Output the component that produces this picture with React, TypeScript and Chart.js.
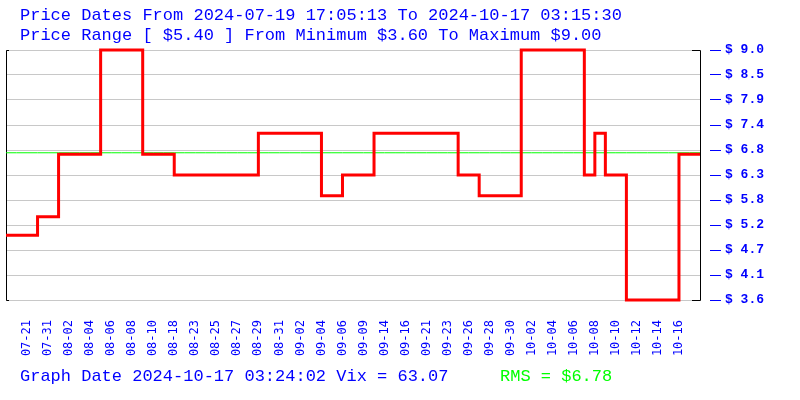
import React, { useEffect, useRef } from 'react';
import { Chart, registerables } from 'chart.js';

Chart.register(...registerables);

const titleLines = [
  'Price Dates From 2024-07-19 17:05:13 To 2024-10-17 03:15:30',
  'Price Range [ $5.40 ] From Minimum $3.60 To Maximum $9.00',
];
const footerLeft = 'Graph Date 2024-10-17 03:24:02 Vix = 63.07';
const footerRight = 'RMS = $6.78';

// visible date labels (every other sample, starting at sample 2)
const dateLabels = [
  '07-21', '07-31', '08-02', '08-04', '08-06', '08-08', '08-10', '08-18',
  '08-23', '08-25', '08-27', '08-29', '08-31', '09-02', '09-04', '09-06',
  '09-09', '09-14', '09-16', '09-21', '09-23', '09-26', '09-28', '09-30',
  '10-02', '10-04', '10-06', '10-08', '10-10', '10-12', '10-14', '10-16',
];

// price per sample (67 samples)
const prices = [
  5.0, 5.0, 5.0,
  5.4, 5.4,
  6.75, 6.75, 6.75, 6.75,
  9.0, 9.0, 9.0, 9.0,
  6.75, 6.75, 6.75,
  6.3, 6.3, 6.3, 6.3, 6.3, 6.3, 6.3, 6.3,
  7.2, 7.2, 7.2, 7.2, 7.2, 7.2,
  5.85, 5.85,
  6.3, 6.3, 6.3,
  7.2, 7.2, 7.2, 7.2, 7.2, 7.2, 7.2, 7.2,
  6.3, 6.3,
  5.85, 5.85, 5.85, 5.85,
  9.0, 9.0, 9.0, 9.0, 9.0, 9.0,
  6.3,
  7.2,
  6.3, 6.3,
  3.6, 3.6, 3.6, 3.6, 3.6,
  6.75, 6.75, 6.75,
];

const rmsValue = 6.78;
const yMin = 3.6;
const yMax = 9.0;
const yTickValues = [3.6, 4.14, 4.68, 5.22, 5.76, 6.3, 6.84, 7.38, 7.92, 8.46, 9.0];

const BLUE = '#0000ff';
const GREEN = '#00ff00';
const RED = '#ff0000';
const GRID = '#c8c8c8';

const sampleLabels = prices.map((_, i) =>
  i >= 2 && (i - 2) % 2 === 0 && (i - 2) / 2 < dateLabels.length ? dateLabels[(i - 2) / 2] : ''
);

const decorPlugin = {
  id: 'decor',
  beforeDatasetsDraw(chart: any) {
    const { ctx, chartArea } = chart;
    const { left, right, top, bottom } = chartArea;
    ctx.save();
    ctx.strokeStyle = '#000000';
    ctx.lineWidth = 1;
    ctx.beginPath();
    // left bracket
    ctx.moveTo(left + 3, top + 0.5);
    ctx.lineTo(left + 0.5, top + 0.5);
    ctx.lineTo(left + 0.5, bottom + 0.5);
    ctx.lineTo(left + 3, bottom + 0.5);
    // right bracket
    ctx.moveTo(right - 8, top + 0.5);
    ctx.lineTo(right + 0.5, top + 0.5);
    ctx.lineTo(right + 0.5, bottom + 0.5);
    ctx.lineTo(right - 8, bottom + 0.5);
    ctx.stroke();
    ctx.restore();
  },
  afterDraw(chart: any) {
    const { ctx } = chart;
    ctx.save();
    ctx.font = '17px "Liberation Mono"';
    ctx.textBaseline = 'alphabetic';
    ctx.textAlign = 'left';
    ctx.fillStyle = BLUE;
    ctx.fillText(titleLines[0], 20, 20);
    ctx.fillText(titleLines[1], 20, 40);
    ctx.fillText(footerLeft, 20, 381);
    ctx.fillStyle = GREEN;
    ctx.fillText(footerRight, 500, 381);
    ctx.restore();
  },
};

export default function App() {
  const canvasRef = useRef<HTMLCanvasElement | null>(null);

  useEffect(() => {
    if (!canvasRef.current) return;
    const chart = new Chart(canvasRef.current, {
      type: 'line',
      data: {
        labels: sampleLabels,
        datasets: [
          {
            data: prices,
            borderColor: RED,
            borderWidth: 3,
            stepped: 'before',
            pointRadius: 0,
            fill: false,
            clip: false as any,
            borderJoinStyle: 'miter',
            borderCapStyle: 'butt',
            yAxisID: 'y',
          },
          {
            data: prices.map(() => rmsValue),
            borderColor: GREEN,
            borderWidth: 1,
            pointRadius: 0,
            fill: false,
            yAxisID: 'y',
          },
        ],
      },
      options: {
        animation: false,
        responsive: false,
        events: [],
        layout: { padding: { top: 50, left: 6, right: 0, bottom: 0 } },
        plugins: {
          legend: { display: false },
          title: { display: false },
          tooltip: { enabled: false },
        },
        scales: {
          x: {
            type: 'category',
            offset: false,
            grid: { display: false, drawTicks: false },
            border: { display: false },
            ticks: {
              autoSkip: false,
              minRotation: 90,
              maxRotation: 90,
              padding: 20,
              color: BLUE,
              font: { family: '"DejaVu Sans Mono"', size: 12 },
            },
            afterFit(scale: any) {
              scale.height = 100;
              scale.paddingLeft = 0;
              scale.paddingRight = 0;
            },
          },
          y: {
            position: 'right',
            min: yMin,
            max: yMax,
            border: { display: false },
            grid: {
              color: GRID,
              lineWidth: 1,
              drawTicks: true,
              tickLength: 21,
              tickColor: BLUE,
              tickWidth: 1,
              tickBorderDash: [0, 10, 11, 100],
            } as any,
            ticks: {
              padding: 4,
              color: BLUE,
              font: { family: '"Liberation Mono"', size: 13, weight: 'bold' },
              callback: (v: any) => '$ ' + Number(v).toFixed(1),
            },
            afterBuildTicks(scale: any) {
              scale.ticks = yTickValues.map((value) => ({ value }));
            },
            afterFit(scale: any) {
              scale.width = 100;
              scale.paddingTop = 0;
              scale.paddingBottom = 0;
            },
          },
        },
      },
      plugins: [decorPlugin],
    });
    return () => chart.destroy();
  }, []);

  return (
    <div style={{ position: 'fixed', left: 0, top: 0, width: 800, height: 400, background: '#ffffff' }}>
      <canvas ref={canvasRef} width={800} height={400} style={{ display: 'block' }} />
    </div>
  );
}
